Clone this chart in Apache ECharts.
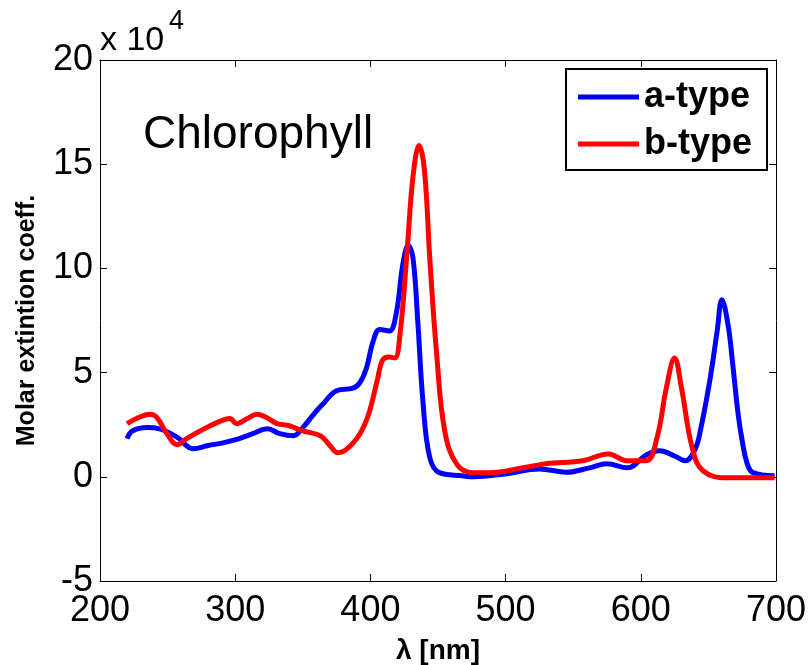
<!DOCTYPE html>
<html>
<head>
<meta charset="utf-8">
<script src="https://cdn.jsdelivr.net/npm/echarts@6/dist/echarts.min.js"></script>
<style>
  html, body {margin: 0; padding: 0; background: #fff;}
  #chart {width: 811px; height: 665px;}
</style>
</head>
<body>
<div id="chart"></div>
<script>
// values in units of 10^4
const xTicks = [200, 300, 400, 500, 600, 700]
const yTicks = [-5, 0, 5, 10, 15, 20]

const waveA = [220, 224, 235, 244, 257, 269, 280, 291, 303, 313, 324, 333, 343, 350, 358, 365, 375, 387, 392, 397,
  402, 407, 414, 419, 424, 428, 431.5, 435, 439, 444, 451, 468, 476, 501, 525, 545, 562, 575, 590, 604,
  614, 625, 633, 640, 644, 651, 656.5, 660, 664.5, 668, 672, 675, 678.5, 683, 699]
const epsA = [1.83, 2.2, 2.36, 2.3, 1.9, 1.35, 1.5, 1.63, 1.83, 2.07, 2.3, 2.07, 1.97, 2.36, 3.0, 3.5, 4.13, 4.25, 4.5, 5.2,
  6.5, 7.07, 7.0, 7.8, 10.2, 11.1, 10.5, 7.5, 3.5, 0.9, 0.2, 0.05, 0.0, 0.15, 0.38, 0.22, 0.43, 0.63, 0.43, 1.05,
  1.25, 1.0, 0.77, 1.3, 2.2, 4.6, 7.0, 8.5, 7.3, 5.4, 3.0, 1.73, 0.67, 0.2, 0.05]

const waveB = [220, 227, 237, 242, 249.5, 257, 264, 274, 286.5, 296, 301, 309, 316, 323, 331, 340, 350, 363, 370, 376,
  387, 397, 405, 409, 414, 418, 422, 427, 431.5, 436, 440, 444, 449, 455, 464, 476, 488, 513, 530, 557,
  576, 590, 604, 612, 619, 625, 630, 638, 646, 664, 699]
const epsB = [2.55, 2.8, 3.0, 2.85, 2.07, 1.54, 1.83, 2.2, 2.6, 2.8, 2.55, 2.8, 3.0, 2.85, 2.55, 2.45, 2.2, 1.97, 1.5, 1.15,
  1.6, 2.7, 4.6, 5.6, 5.75, 5.7, 6.9, 10.7, 14.4, 15.9, 14.7, 10.4, 5.9, 2.2, 0.6, 0.2, 0.2, 0.43, 0.63, 0.77,
  1.1, 0.77, 0.77, 1.88, 4.3, 5.7, 4.3, 1.4, 0.29, -0.05, -0.05]

const font = "'Liberation Sans', Arial, Helvetica, sans-serif"

const frameAxis = {
    type: "value",
    axisLine: {show: true, onZero: false, lineStyle: {color: "#000", width: 1}},
    axisTick: {show: true, inside: true, length: 7, lineStyle: {color: "#000"}},
    splitLine: {show: false}
}

const xBase = {
    ...frameAxis,
    min: xTicks[0],
    max: xTicks[xTicks.length - 1],
    interval: xTicks[1] - xTicks[0]
}
const yBase = {
    ...frameAxis,
    min: yTicks[0],
    max: yTicks[yTicks.length - 1],
    interval: yTicks[1] - yTicks[0]
}

const option = {
    animation: false,
    backgroundColor: "#fff",
    textStyle: {fontFamily: font},
    grid: {left: 100, top: 60, right: 35, bottom: 84, containLabel: false, outerBoundsMode: "none"},
    xAxis: [
        {
            ...xBase,
            position: "bottom",
            axisLabel: {color: "#000", fontSize: 36, margin: 12, fontFamily: font},
            name: "λ [nm]",
            nameLocation: "middle",
            nameGap: 56,
            nameTextStyle: {color: "#000", fontSize: 28, fontWeight: "bold", fontFamily: font}
        },
        {...xBase, position: "top", axisLabel: {show: false}}
    ],
    yAxis: [
        {
            ...yBase,
            position: "left",
            axisLabel: {color: "#000", fontSize: 36, margin: 7, fontFamily: font},
            name: "Molar extintion coeff.",
            nameLocation: "middle",
            nameGap: 60,
            nameTextStyle: {color: "#000", fontSize: 25, fontWeight: "bold", fontFamily: font}
        },
        {...yBase, position: "right", axisLabel: {show: false}}
    ],
    legend: {
        data: ["a-type", "b-type"],
        orient: "vertical",
        left: 566,
        top: 69,
        icon: "rect",
        itemWidth: 61,
        itemHeight: 5,
        itemGap: 7,
        padding: [8, 15, 6, 12],
        borderColor: "#000",
        borderWidth: 2,
        backgroundColor: "#fff",
        textStyle: {color: "#000", fontSize: 36, fontWeight: "bold", lineHeight: 40, fontFamily: font}
    },
    graphic: [
        {type: "text", left: 143, top: 112,
            style: {text: "Chlorophyll", fontSize: 46, fontFamily: font, fill: "#000"}},
        {type: "text", left: 100, top: 24,
            style: {text: "x 10", fontSize: 34, fontFamily: font, fill: "#000"}},
        {type: "text", left: 169, top: 8,
            style: {text: "4", fontSize: 27, fontFamily: font, fill: "#000"}}
    ],
    series: [
        {
            name: "a-type",
            type: "line",
            smooth: 0.4,
            showSymbol: false,
            color: "#0000ff",
            lineStyle: {width: 5, color: "#0000ff"},
            data: waveA.map((w, i) => [w, epsA[i]])
        },
        {
            name: "b-type",
            type: "line",
            smooth: 0.4,
            showSymbol: false,
            color: "#ff0000",
            lineStyle: {width: 5, color: "#ff0000"},
            data: waveB.map((w, i) => [w, epsB[i]])
        }
    ]
}

const chart = echarts.init(document.getElementById("chart"))
chart.setOption(option)
window.addEventListener("resize", () => chart.resize())
</script>
</body>
</html>
